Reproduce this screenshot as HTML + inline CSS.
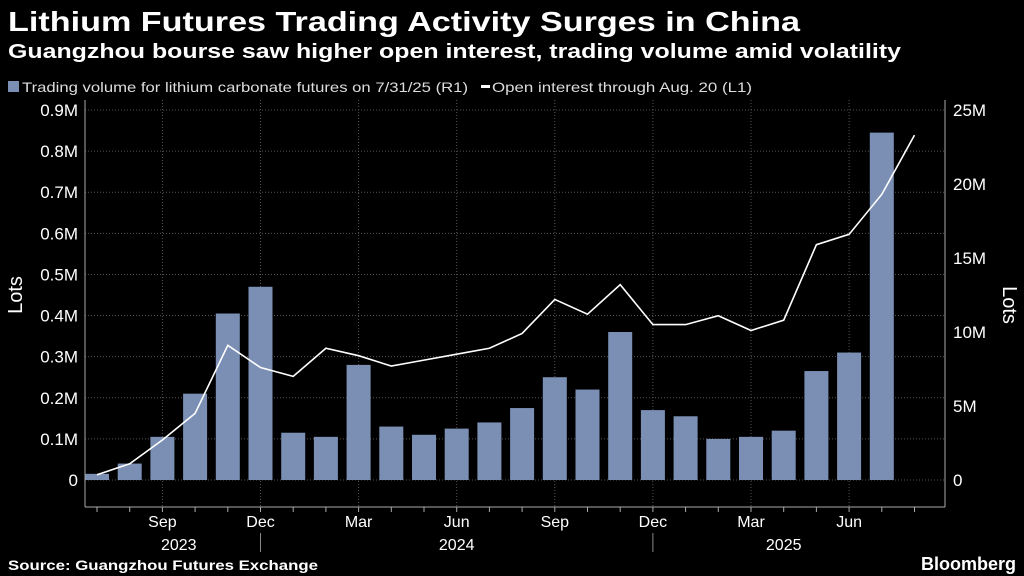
<!DOCTYPE html>
<html><head><meta charset="utf-8"><style>
body{margin:0;background:#000;width:1024px;height:576px;overflow:hidden;font-family:"Liberation Sans",sans-serif;color:#fff}
svg{position:absolute;left:0;top:0}
</style></head><body>
<svg width="1024" height="576">
<text x="8" y="31" font-size="28" font-weight="bold" fill="#fff" textLength="792" lengthAdjust="spacingAndGlyphs">Lithium Futures Trading Activity Surges in China</text>
<text x="8" y="58" font-size="20" font-weight="bold" fill="#fff" textLength="893" lengthAdjust="spacingAndGlyphs">Guangzhou bourse saw higher open interest, trading volume amid volatility</text>
<g>
<rect x="8" y="81" width="11" height="11" fill="#7b8fb5"/>
<text x="22" y="92" font-size="14" fill="#ddd" textLength="446" lengthAdjust="spacingAndGlyphs">Trading volume for lithium carbonate futures on 7/31/25 (R1)</text>
<rect x="481" y="85" width="9" height="3" fill="#fff"/>
<text x="492" y="92" font-size="14" fill="#ddd" textLength="260" lengthAdjust="spacingAndGlyphs">Open interest through Aug. 20 (L1)</text>
</g>
<g id="grid"></g><g id="bars"></g><g id="line"></g><g id="axes"></g>
<text transform="translate(22,295) rotate(-90)" text-anchor="middle" font-size="20" fill="#fff">Lots</text>
<text transform="translate(1003,305) rotate(90)" text-anchor="middle" font-size="20" fill="#fff">Lots</text>
<text x="8" y="570" font-size="14" font-weight="bold" fill="#fff" textLength="310" lengthAdjust="spacingAndGlyphs">Source: Guangzhou Futures Exchange</text>
<text x="1016" y="570" text-anchor="end" font-size="18" font-weight="bold" fill="#fff">Bloomberg</text>
</svg>
<script>
const volume=[0.015,0.04,0.105,0.21,0.405,0.47,0.115,0.105,0.28,0.13,0.11,0.125,0.14,0.175,0.25,0.22,0.36,0.17,0.155,0.1,0.105,0.12,0.265,0.31,0.845];
const openInterest=[0.35,1.1,2.7,4.5,9.1,7.6,7.0,8.9,8.4,7.7,8.1,8.5,8.9,9.9,12.2,11.2,13.2,10.5,10.5,11.1,10.1,10.8,15.9,16.6,19.3,23.3];
const leftTicks=[0,0.1,0.2,0.3,0.4,0.5,0.6,0.7,0.8,0.9];
const leftLabels=["0","0.1M","0.2M","0.3M","0.4M","0.5M","0.6M","0.7M","0.8M","0.9M"];
const rightTicks=[0,5,10,15,20,25];
const rightLabels=["0","5M","10M","15M","20M","25M"];
const monthIdx=[2,5,8,11,14,17,20,23];
const monthLabels=["Sep","Dec","Mar","Jun","Sep","Dec","Mar","Jun"];
const yearLabels=["2023","2024","2025"];
const yearPos=[2.5,11,21];
const yearSep=[5,17];
const NS="http://www.w3.org/2000/svg";
const x=i=>97+i*32.7;
const yL=v=>480-v/0.9*370;
const yR=v=>480-v/25*370;
function mk(p,t,a){const e=document.createElementNS(NS,t);for(const k in a)e.setAttribute(k,a[k]);document.getElementById(p).appendChild(e);return e;}
leftTicks.forEach((v,i)=>{
 const g=mk('grid','line',{x1:85,x2:945,y1:yL(v),y2:yL(v),stroke:'#555','stroke-dasharray':'1,2'});
 
 
 const t=mk('axes','text',{x:78,y:yL(v)+6,'text-anchor':'end','font-size':17,fill:'#fff'});t.textContent=leftLabels[i];
 
 
});
rightTicks.forEach((v,i)=>{
 const t=mk('axes','text',{x:953,y:yR(v)+6,'font-size':17,fill:'#fff'});t.textContent=rightLabels[i];
 
 
});
monthIdx.forEach((m,i)=>{
 const g=mk('grid','line',{x1:x(m),x2:x(m),y1:100,y2:507,stroke:'#555','stroke-dasharray':'1,2'});
 
 
 const t=mk('axes','text',{x:x(m),y:527,'text-anchor':'middle','font-size':16,fill:'#fff'});t.textContent=monthLabels[i];
 
 
});
yearLabels.forEach((y,i)=>{
 const t=mk('axes','text',{x:x(yearPos[i]),y:550,'text-anchor':'middle','font-size':16,fill:'#fff'});t.textContent=y;
 
 
});
yearSep.forEach(m=>{const l=mk('axes','line',{x1:x(m),x2:x(m),y1:533,y2:552,stroke:'#888'});
 
 });
volume.forEach((v,i)=>{
 const r=mk('bars','rect',{x:x(i)-12,y:yL(v),width:24,height:480-yL(v),fill:'#7b8fb5'});
 
 
});
const pl=mk('line','polyline',{points:openInterest.map((v,i)=>x(i)+','+yR(v)).join(' '),fill:'none',stroke:'#fff','stroke-width':1.6});


[['85','85','100','507'],['945','945','100','507'],['85','945','507','507']].forEach(a=>{
 const l=mk('axes','line',{x1:a[0],x2:a[1],y1:a[2],y2:a[3],stroke:'#aaa'});
 
 
});
for(let i=0;i<26;i++){const l=mk('axes','line',{x1:x(i),x2:x(i),y1:507,y2:512,stroke:'#aaa'});
 
 }
</script>
</body></html>
